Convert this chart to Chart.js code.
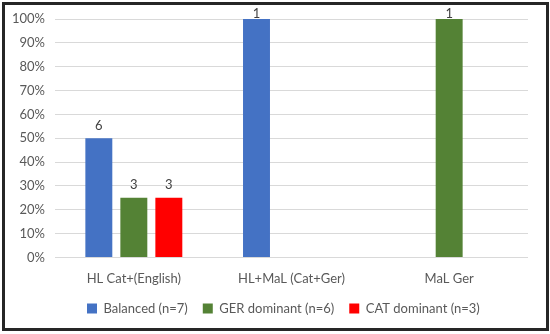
<!DOCTYPE html>
<html>
<head>
<meta charset="utf-8">
<script src="https://cdn.jsdelivr.net/npm/chart.js@4.4.1/dist/chart.umd.min.js"></script>
<style>
  html, body { margin: 0; padding: 0; background: #fff; }
  #frame {
    position: absolute; left: 2px; top: 2px;
    width: 541px; height: 323px;
    border: 3px solid #262626;
  }
  #chart { display: block; }
</style>
</head>
<body>
<div id="frame"><canvas id="chart" width="541" height="323"></canvas></div>
<script>
// categories and series
const categories = ['HL Cat+(English)', 'HL+MaL (Cat+Ger)', 'MaL Ger'];
const seriesNames = ['Balanced (n=7)', 'GER dominant (n=6)', 'CAT dominant (n=3)'];
const balancedPct = [50, 100, 0];
const gerPct = [25, 0, 100];
const catPct = [25, 0, 0];
// counts shown above the bars
const balancedCount = [6, 1, 0];
const gerCount = [3, 0, 1];
const catCount = [3, 0, 0];
const yTicks = [0, 10, 20, 30, 40, 50, 60, 70, 80, 90, 100];

const counts = [balancedCount, gerCount, catCount];
const fontFamily = 'Lato, "Open Sans", sans-serif';

// writes the count above each non-zero bar (kept inside the frame at the top)
const countLabels = {
    id: 'countLabels',
    afterDatasetsDraw(chart) {
        const ctx = chart.ctx;
        ctx.save();
        ctx.font = '13px ' + fontFamily;
        ctx.fillStyle = '#404040';
        ctx.textAlign = 'center';
        ctx.textBaseline = 'bottom';
        chart.data.datasets.forEach(function(ds, i) {
            chart.getDatasetMeta(i).data.forEach(function(bar, j) {
                if (ds.data[j] > 0) {
                    ctx.fillText(String(counts[i][j]), bar.x, Math.max(bar.y - 6, 15));
                }
            });
        });
        ctx.restore();
    }
};

// legend: start it where the original does and spread the items a bit
// without making the legend box taller
const shiftLegend = {
    id: 'shiftLegend',
    afterLayout(chart) {
        const lg = chart.legend;
        const pad = 15;
        const extra = pad - lg.options.labels.padding;
        lg.options.labels.padding = pad;
        lg.top -= extra + 2;
        lg.left = 82 - pad;
        lg.right = chart.width;
    }
};

new Chart(document.getElementById('chart'), {
    type: 'bar',
    data: {
        labels: categories,
        datasets: [
            { label: seriesNames[0], data: balancedPct, backgroundColor: '#4472C4' },
            { label: seriesNames[1], data: gerPct, backgroundColor: '#548235' },
            { label: seriesNames[2], data: catPct, backgroundColor: '#FF0000' }
        ]
    },
    options: {
        responsive: false,
        animation: false,
        layout: { padding: { top: 14, right: 18, left: 0, bottom: 1 } },
        datasets: { bar: { categoryPercentage: 0.666, barPercentage: 0.77 } },
        scales: {
            x: {
                grid: { display: false },
                border: { display: false },
                ticks: { color: '#595959', font: { size: 13, family: fontFamily }, padding: 6 }
            },
            y: {
                min: 0, max: 100,
                afterBuildTicks: function(axis) { axis.ticks = yTicks.map(function(v) { return { value: v }; }); },
                afterFit: function(axis) { axis.width = 50; axis.paddingTop = 0; axis.paddingBottom = 0; },
                grid: { color: '#d9d9d9', drawTicks: false },
                border: { display: false },
                ticks: {
                    color: '#595959', padding: 10,
                    font: { size: 13, family: fontFamily },
                    callback: function(v) { return v + '%'; }
                }
            }
        },
        plugins: {
            tooltip: { enabled: false },
            legend: {
                position: 'bottom',
                align: 'start',
                labels: {
                    color: '#595959', boxWidth: 10, boxHeight: 10, padding: 11,
                    font: { size: 13, family: fontFamily }
                }
            }
        }
    },
    plugins: [countLabels, shiftLegend]
});
</script>
</body>
</html>
